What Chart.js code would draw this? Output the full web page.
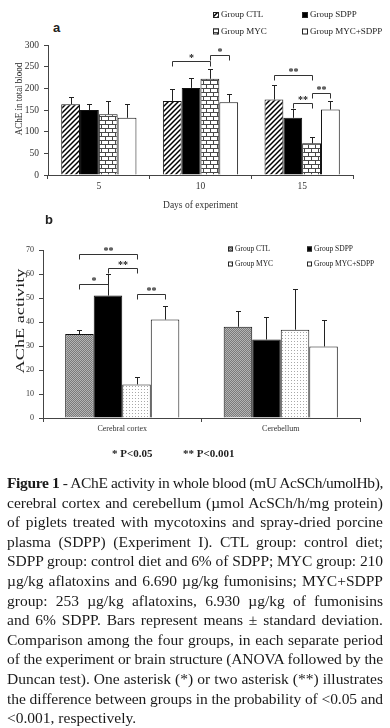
<!DOCTYPE html>
<html>
<head>
<meta charset="utf-8">
<script src="https://cdn.jsdelivr.net/npm/chart.js@4.4.1/dist/chart.umd.min.js"></script>
<style>
  body { margin: 0; background: #fff; width: 390px; height: 728px; position: relative; overflow: hidden;
         font-family: 'Liberation Serif', 'Times New Roman', serif; color: #222; }
  canvas { position: absolute; left: 0; }
  #chartA { top: 0; }
  #chartB { top: 215px; }
  .panel { position: absolute; font-family: 'Liberation Sans', Arial, sans-serif; font-weight: bold; font-size: 13px; }
  .sig { position: absolute; top: 447px; font-weight: bold; font-size: 11px; }
  #caption { position: absolute; left: 7px; top: 473px; width: 376px; font-size: 15.5px; line-height: 19.6px; color: #1a1a1a; }
  #caption div { white-space: nowrap; }
</style>
</head>
<body>
<div class="panel" style="left:53px; top:20px;">a</div>
<canvas id="chartA" width="390" height="215"></canvas>
<div class="panel" style="left:45px; top:212px;">b</div>
<canvas id="chartB" width="390" height="225"></canvas>
<div class="sig" style="left:112px;">* P&lt;0.05</div>
<div class="sig" style="left:183px;">** P&lt;0.001</div>

<div id="caption">
  <div><span><b>Figure 1</b> - AChE activity in whole blood (mU AcSCh/umolHb),</span></div>
  <div><span>cerebral cortex and cerebellum (µmol AcSCh/h/mg protein)</span></div>
  <div><span>of piglets treated with mycotoxins and spray-dried porcine</span></div>
  <div><span>plasma (SDPP) (Experiment I). CTL group: control diet;</span></div>
  <div><span>SDPP group: control diet and 6% of SDPP; MYC group: 210</span></div>
  <div><span>µg/kg aflatoxins and 6.690 µg/kg fumonisins; MYC+SDPP</span></div>
  <div><span>group: 253 µg/kg aflatoxins, 6.930 µg/kg of fumonisins</span></div>
  <div><span>and 6% SDPP. Bars represent means ± standard deviation.</span></div>
  <div><span>Comparison among the four groups, in each separate period</span></div>
  <div><span>of the experiment or brain structure (ANOVA followed by the</span></div>
  <div><span>Duncan test). One asterisk (*) or two asterisk (**) illustrates</span></div>
  <div><span>the difference between groups in the probability of &lt;0.05 and</span></div>
  <div><span>&lt;0.001, respectively.</span></div>
</div>

<script>
const groups = ['Group CTL', 'Group SDPP', 'Group MYC', 'Group MYC+SDPP'];

// (a) AChE in total blood
const days = ['5', '10', '15'];
const bloodTicks = [0, 50, 100, 150, 200, 250, 300];
const bloodCTL = [163, 171, 174];
const bloodSDPP = [150, 201, 132];
const bloodMYC = [140, 222, 73];
const bloodMYCSDPP = [132, 168, 151];
const bloodCTLsd = [16, 27, 33];
const bloodSDPPsd = [15, 24, 20];
const bloodMYCsd = [30, 23, 14];
const bloodMYCSDPPsd = [33, 19, 20];
// [category, group from, group to, bracket height, label]
const bloodSig = [
    [1, 0, 2, 264, '*'],
    [1, 2, 3, 277, '*'],
    [2, 0, 2, 230, '**'],
    [2, 1, 2, 167, '**'],
    [2, 2, 3, 189, '**']
];

// (b) AChE activity in brain
const regions = ['Cerebral cortex', 'Cerebellum'];
const brainTicks = [0, 10, 20, 30, 40, 50, 60, 70];
const brainCTL = [35, 38];
const brainSDPP = [51, 32.7];
const brainMYC = [14, 36.8];
const brainMYCSDPP = [41, 29.8];
const brainCTLsd = [1.5, 6.5];
const brainSDPPsd = [9, 9.5];
const brainMYCsd = [3, 17];
const brainMYCSDPPsd = [5.5, 11];
const brainSig = [
    [0, 0, 1, 56, '*'],
    [0, 0, 2, 68.5, '**'],
    [0, 1, 2, 62.5, '**'],
    [0, 2, 3, 51.5, '**']
];

const serif = "'Liberation Serif', 'Times New Roman', serif";

function tile(w, h, paint) {
    const c = document.createElement('canvas');
    c.width = w; c.height = h;
    const g = c.getContext('2d');
    paint(g);
    return g.createPattern(c, 'repeat');
}

const hatch = tile(5, 5, g => {
    g.fillStyle = '#fff'; g.fillRect(0, 0, 5, 5);
    g.strokeStyle = '#000'; g.lineWidth = 1.5;
    g.beginPath();
    g.moveTo(0, 5); g.lineTo(5, 0);
    g.moveTo(-1, 1); g.lineTo(1, -1);
    g.moveTo(4, 6); g.lineTo(6, 4);
    g.stroke();
});
const brick = tile(7, 8, g => {
    g.fillStyle = '#fff'; g.fillRect(0, 0, 7, 8);
    g.fillStyle = '#4a4a4a';
    g.fillRect(0, 0, 7, 1); g.fillRect(0, 4, 7, 1);
    g.fillRect(0, 0, 1, 4); g.fillRect(3, 4, 1, 4);
});
const greyCheck = tile(2, 2, g => {
    g.fillStyle = '#b4b4b4'; g.fillRect(0, 0, 2, 2);
    g.fillStyle = '#7a7a7a'; g.fillRect(0, 0, 1, 1); g.fillRect(1, 1, 1, 1);
});
const dots = tile(3, 3, g => {
    g.fillStyle = '#fff'; g.fillRect(0, 0, 3, 3);
    g.fillStyle = '#a8a8a8'; g.fillRect(0, 0, 1, 1);
});

// error bars, significance brackets, legend and rotated y title
const extras = {
    id: 'extras',
    afterDatasetsDraw(chart, args, opts) {
        const ctx = chart.ctx;
        const y = chart.scales.y;
        ctx.save();
        ctx.strokeStyle = '#222';
        ctx.lineWidth = 1;
        chart.data.datasets.forEach((ds, i) => {
            chart.getDatasetMeta(i).data.forEach((bar, j) => {
                const top = Math.round(y.getPixelForValue(ds.data[j] + ds.sd[j])) + 0.5;
                const x = Math.round(bar.x) + 0.5;
                ctx.beginPath();
                ctx.moveTo(x, bar.y); ctx.lineTo(x, top);
                ctx.moveTo(x - opts.cap / 2, top); ctx.lineTo(x + opts.cap / 2, top);
                ctx.stroke();
            });
        });

        ctx.strokeStyle = '#333';
        ctx.fillStyle = '#222';
        ctx.font = opts.starFont;
        ctx.textAlign = 'center';
        ctx.textBaseline = 'alphabetic';
        opts.sig.forEach(([cat, a, b, h, label]) => {
            const x1 = Math.round(chart.getDatasetMeta(a).data[cat].x) + 0.5;
            const x2 = Math.round(chart.getDatasetMeta(b).data[cat].x) + 0.5;
            const py = Math.round(y.getPixelForValue(h)) + 0.5;
            ctx.beginPath();
            ctx.moveTo(x1, py + opts.drop); ctx.lineTo(x1, py);
            ctx.lineTo(x2, py); ctx.lineTo(x2, py + opts.drop);
            ctx.stroke();
            ctx.fillText(label, (x1 + x2) / 2, py + opts.starShift);
        });

        ctx.font = opts.legendFont;
        ctx.textAlign = 'left';
        ctx.textBaseline = 'middle';
        chart.data.datasets.forEach((ds, i) => {
            const [lx, ly] = opts.legendPos[i];
            const s = opts.box;
            ctx.fillStyle = ds.backgroundColor;
            ctx.fillRect(lx, ly - s / 2, s, s);
            ctx.strokeStyle = '#222';
            ctx.strokeRect(lx + 0.5, ly - s / 2 + 0.5, s - 1, s - 1);
            ctx.fillStyle = '#222';
            ctx.fillText(ds.label, lx + s + 2, ly);
        });

        const t = opts.yTitle;
        ctx.translate(t.x, t.y);
        ctx.rotate(-Math.PI / 2);
        ctx.scale(t.stretch, 1);
        ctx.font = t.font;
        ctx.textAlign = 'center';
        ctx.fillStyle = '#222';
        ctx.fillText(t.text, 0, 0);
        ctx.restore();
    }
};

function makeChart(id, cats, ticks, sets, sds, fills, o) {
    return new Chart(document.getElementById(id), {
        type: 'bar',
        data: {
            labels: cats,
            datasets: sets.map((d, i) => ({
                label: groups[i],
                data: d,
                sd: sds[i],
                backgroundColor: fills[i],
                borderColor: '#111',
                borderWidth: 1,
                categoryPercentage: o.catPct,
                barPercentage: 1
            }))
        },
        options: {
            responsive: false,
            animation: false,
            devicePixelRatio: 1,
            layout: { padding: o.padding },
            plugins: {
                legend: { display: false },
                tooltip: { enabled: false },
                extras: o.extras
            },
            scales: {
                x: {
                    grid: { drawOnChartArea: false, tickLength: 4, color: '#444', offset: true },
                    border: { color: '#444' },
                    ticks: { color: '#333', font: { family: serif, size: o.xFont }, padding: 2 },
                    title: o.xTitle,
                    afterFit: s => { s.height = o.xHeight; }
                },
                y: {
                    min: ticks[0],
                    max: ticks[ticks.length - 1],
                    afterBuildTicks: s => { s.ticks = ticks.map(v => ({ value: v })); },
                    grid: { drawOnChartArea: false, tickLength: 4, color: '#444' },
                    border: { color: '#444' },
                    ticks: { color: '#333', font: { family: serif, size: o.yFont }, padding: o.yPad },
                    afterFit: s => { s.width = o.yWidth; }
                }
            }
        },
        plugins: [extras]
    });
}

makeChart('chartA', days, bloodTicks,
    [bloodCTL, bloodSDPP, bloodMYC, bloodMYCSDPP],
    [bloodCTLsd, bloodSDPPsd, bloodMYCsd, bloodMYCSDPPsd],
    [hatch, '#000', brick, '#fff'],
    {
        catPct: 0.74,
        padding: { top: 45, right: 37, left: 0, bottom: 0 },
        xFont: 9.5, yFont: 9.5, yPad: 5, yWidth: 48, xHeight: 40,
        xTitle: { display: true, text: 'Days of experiment', color: '#333',
                  font: { family: serif, size: 9.5 }, padding: { top: 0, bottom: 4 } },
        extras: {
            cap: 5, drop: 5, starShift: -1, starFont: 'bold 10px ' + serif,
            sig: bloodSig,
            legendFont: '9px ' + serif, box: 6,
            legendPos: [[213, 15], [302, 15], [213, 31.5], [302, 31.5]],
            yTitle: { text: 'AChE in total blood', x: 19, y: 99, stretch: 0.9, font: '10px ' + serif }
        }
    });

makeChart('chartB', regions, brainTicks,
    [brainCTL, brainSDPP, brainMYC, brainMYCSDPP],
    [brainCTLsd, brainSDPPsd, brainMYCsd, brainMYCSDPPsd],
    [greyCheck, '#000', dots, '#fff'],
    {
        catPct: 0.72,
        padding: { top: 35, right: 30, left: 0, bottom: 0 },
        xFont: 8, yFont: 8, yPad: 5, yWidth: 43, xHeight: 22,
        xTitle: { display: false },
        extras: {
            cap: 5, drop: 5, starShift: -1, starFont: 'bold 10px ' + serif,
            sig: brainSig,
            legendFont: '7.5px ' + serif, box: 5,
            legendPos: [[228, 34], [307, 34], [228, 49], [307, 49]],
            yTitle: { text: 'AChE activity', x: 20, y: 106, stretch: 1.35, font: '13.5px ' + serif }
        }
    });

// justify the caption lines: widen word gaps, or tighten letters when a line is too long
document.querySelectorAll('#caption div').forEach((ln, i, all) => {
    if (i === all.length - 1) return;
    const span = ln.firstElementChild;
    const w = span.getBoundingClientRect().width;
    const text = span.textContent;
    const gaps = (text.match(/ /g) || []).length;
    if (w > 376) {
        ln.style.letterSpacing = ((376 - w) / text.length) + 'px';
    } else {
        ln.style.wordSpacing = ((376 - w) / gaps) + 'px';
    }
});
</script>
</body>
</html>
